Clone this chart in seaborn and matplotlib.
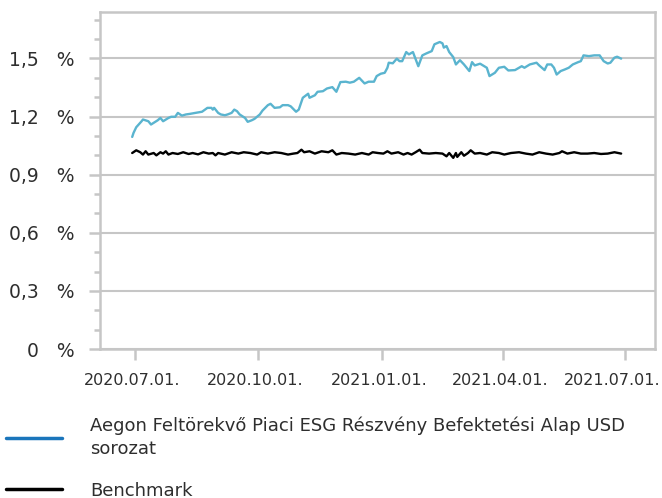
import pandas as pd
import matplotlib
matplotlib.use("Agg")
import matplotlib.pyplot as plt
import matplotlib.dates as mdates
import matplotlib.transforms as mtransforms
from matplotlib.ticker import MultipleLocator, FuncFormatter
from matplotlib.lines import Line2D
import seaborn as sns

sns.set_theme(style="white")
plt.rcParams['font.family'] = ['DejaVu Sans']

# Fund series
fund_dates = [
    "2020-06-29", "2020-06-30", "2020-07-02", "2020-07-06", "2020-07-07", "2020-07-11",
    "2020-07-13", "2020-07-18", "2020-07-20", "2020-07-22", "2020-07-26", "2020-07-28",
    "2020-07-31", "2020-08-02", "2020-08-05", "2020-08-08", "2020-08-11", "2020-08-15",
    "2020-08-20", "2020-08-24", "2020-08-27", "2020-08-28", "2020-08-29", "2020-09-01",
    "2020-09-03", "2020-09-06", "2020-09-08", "2020-09-11", "2020-09-13", "2020-09-15",
    "2020-09-17", "2020-09-21", "2020-09-23", "2020-09-26", "2020-09-28", "2020-10-02",
    "2020-10-04", "2020-10-08", "2020-10-10", "2020-10-13", "2020-10-17", "2020-10-19",
    "2020-10-23", "2020-10-25", "2020-10-29", "2020-10-31", "2020-11-03", "2020-11-07",
    "2020-11-08", "2020-11-12", "2020-11-14", "2020-11-18", "2020-11-21", "2020-11-25",
    "2020-11-28", "2020-12-01", "2020-12-05", "2020-12-08", "2020-12-11", "2020-12-15",
    "2020-12-19", "2020-12-22", "2020-12-26", "2020-12-28", "2020-12-31", "2021-01-03",
    "2021-01-05", "2021-01-06", "2021-01-09", "2021-01-12", "2021-01-14", "2021-01-16",
    "2021-01-19", "2021-01-21", "2021-01-24", "2021-01-28", "2021-01-31", "2021-02-03",
    "2021-02-07", "2021-02-09", "2021-02-13", "2021-02-15", "2021-02-16", "2021-02-18",
    "2021-02-20", "2021-02-23", "2021-02-25", "2021-02-28", "2021-03-03", "2021-03-07",
    "2021-03-09", "2021-03-11", "2021-03-15", "2021-03-20", "2021-03-22", "2021-03-26",
    "2021-03-29", "2021-04-02", "2021-04-05", "2021-04-10", "2021-04-15", "2021-04-17",
    "2021-04-21", "2021-04-26", "2021-04-28", "2021-05-02", "2021-05-04", "2021-05-07",
    "2021-05-09", "2021-05-11", "2021-05-14", "2021-05-17", "2021-05-20", "2021-05-23",
    "2021-05-27", "2021-05-29", "2021-05-31", "2021-06-04", "2021-06-08", "2021-06-12",
    "2021-06-15", "2021-06-18", "2021-06-20", "2021-06-23", "2021-06-25", "2021-06-28",
]
fund_values = [
    1.095, 1.116, 1.145, 1.176, 1.185, 1.176,
    1.159, 1.181, 1.193, 1.176, 1.193, 1.199,
    1.199, 1.219, 1.205, 1.211, 1.214, 1.219,
    1.225, 1.245, 1.245, 1.236, 1.245, 1.219,
    1.211, 1.207, 1.211, 1.219, 1.236, 1.228,
    1.211, 1.193, 1.173, 1.181, 1.188, 1.211,
    1.231, 1.259, 1.266, 1.245, 1.248, 1.259,
    1.259, 1.253, 1.225, 1.236, 1.297, 1.318,
    1.297, 1.310, 1.328, 1.331, 1.345, 1.352,
    1.328, 1.378, 1.380, 1.375, 1.380, 1.400,
    1.371, 1.380, 1.380, 1.409, 1.421, 1.426,
    1.452, 1.478, 1.475, 1.499, 1.486, 1.486,
    1.533, 1.521, 1.533, 1.460, 1.516, 1.526,
    1.538, 1.573, 1.585, 1.578, 1.556, 1.564,
    1.533, 1.507, 1.469, 1.491, 1.469, 1.435,
    1.481, 1.464, 1.473, 1.452, 1.409, 1.426,
    1.452, 1.457, 1.438, 1.440, 1.460, 1.452,
    1.469, 1.478, 1.464, 1.440, 1.469, 1.469,
    1.452, 1.417, 1.435, 1.443, 1.452, 1.469,
    1.481, 1.486, 1.516, 1.512, 1.516, 1.516,
    1.486, 1.474, 1.478, 1.504, 1.509, 1.499,
]

# Benchmark series
bench_dates = [
    "2020-06-29", "2020-07-02", "2020-07-05", "2020-07-07", "2020-07-09", "2020-07-11",
    "2020-07-15", "2020-07-17", "2020-07-20", "2020-07-22", "2020-07-24", "2020-07-26",
    "2020-07-29", "2020-08-02", "2020-08-06", "2020-08-10", "2020-08-13", "2020-08-17",
    "2020-08-21", "2020-08-25", "2020-08-28", "2020-08-30", "2020-09-01", "2020-09-06",
    "2020-09-11", "2020-09-16", "2020-09-20", "2020-09-25", "2020-09-30", "2020-10-03",
    "2020-10-08", "2020-10-13", "2020-10-18", "2020-10-23", "2020-10-27", "2020-10-30",
    "2020-11-02", "2020-11-04", "2020-11-08", "2020-11-12", "2020-11-17", "2020-11-22",
    "2020-11-25", "2020-11-28", "2020-12-02", "2020-12-07", "2020-12-12", "2020-12-17",
    "2020-12-22", "2020-12-25", "2020-12-29", "2021-01-02", "2021-01-05", "2021-01-08",
    "2021-01-13", "2021-01-17", "2021-01-20", "2021-01-23", "2021-01-26", "2021-01-29",
    "2021-01-31", "2021-02-05", "2021-02-10", "2021-02-15", "2021-02-18", "2021-02-20",
    "2021-02-23", "2021-02-25", "2021-02-26", "2021-03-01", "2021-03-03", "2021-03-06",
    "2021-03-08", "2021-03-11", "2021-03-15", "2021-03-20", "2021-03-24", "2021-03-29",
    "2021-04-02", "2021-04-07", "2021-04-13", "2021-04-18", "2021-04-23", "2021-04-28",
    "2021-05-03", "2021-05-08", "2021-05-13", "2021-05-15", "2021-05-19", "2021-05-24",
    "2021-05-29", "2021-06-03", "2021-06-08", "2021-06-13", "2021-06-18", "2021-06-23",
    "2021-06-28",
]
bench_values = [
    1.012, 1.026, 1.016, 1.004, 1.021, 1.004,
    1.012, 1.000, 1.016, 1.009, 1.021, 1.004,
    1.012, 1.007, 1.016, 1.007, 1.012, 1.005,
    1.016, 1.009, 1.012, 1.000, 1.012, 1.004,
    1.016, 1.009, 1.016, 1.012, 1.004, 1.016,
    1.009, 1.016, 1.012, 1.004, 1.009, 1.012,
    1.029, 1.016, 1.021, 1.009, 1.021, 1.016,
    1.026, 1.004, 1.012, 1.009, 1.004, 1.012,
    1.004, 1.016, 1.012, 1.009, 1.021, 1.009,
    1.016, 1.004, 1.012, 1.004, 1.016, 1.029,
    1.012, 1.009, 1.012, 1.009, 0.995, 1.012,
    0.987, 1.012, 0.992, 1.016, 0.998, 1.012,
    1.026, 1.009, 1.012, 1.004, 1.016, 1.012,
    1.004, 1.012, 1.016, 1.009, 1.004, 1.016,
    1.009, 1.004, 1.012, 1.021, 1.009, 1.016,
    1.009, 1.009, 1.012, 1.007, 1.009, 1.016,
    1.009,
]

fund_label = "Aegon Feltörekvő Piaci ESG Részvény Befektetési Alap USD\nsorozat"
bench_label = "Benchmark"
x_ticks = ["2020-07-01", "2020-10-01", "2021-01-01", "2021-04-01", "2021-07-01"]

fund_df = pd.DataFrame({"Date": pd.to_datetime(fund_dates), "Value": fund_values})
bench_df = pd.DataFrame({"Date": pd.to_datetime(bench_dates), "Value": bench_values})

grid_gray = "#c6c6c6"
text_gray = "#2e2e2e"

fig = plt.figure(figsize=(6.62, 4.98), dpi=100)
ax = fig.add_axes([0.151, 0.299, 0.838, 0.677])

sns.lineplot(data=bench_df, x="Date", y="Value", color="black", linewidth=1.7, ax=ax)
sns.lineplot(data=fund_df, x="Date", y="Value", color="#5ab4cf", linewidth=1.7, ax=ax)

ax.set_xlim(pd.Timestamp("2020-06-05"), pd.Timestamp("2021-07-23"))
ax.set_ylim(0, 1.74)
ax.set_xlabel("")
ax.set_ylabel("")

ax.set_xticks(pd.to_datetime(x_ticks))
ax.xaxis.set_major_formatter(mdates.DateFormatter("%Y.%m.%d."))
ax.yaxis.set_major_locator(MultipleLocator(0.3))
ax.yaxis.set_minor_locator(MultipleLocator(0.1))
ax.yaxis.set_major_formatter(FuncFormatter(
    lambda v, p: ("0" if abs(v) < 1e-9 else f"{v:.1f}".replace(".", ",")) + "   %"))

ax.grid(axis="y", which="major", color=grid_gray, linewidth=1.5)
ax.set_axisbelow(True)
for s in ax.spines.values():
    s.set_visible(True)
    s.set_color(grid_gray)
    s.set_linewidth(1.8)

ax.tick_params(axis="y", which="major", direction="out", length=8, width=1.8,
               color=grid_gray, labelsize=13.5, labelcolor=text_gray, pad=10, left=True)
ax.tick_params(axis="y", which="minor", direction="out", length=4, width=1.8,
               color=grid_gray, left=True)
ax.tick_params(axis="x", which="major", direction="out", length=8, width=1.8,
               color=grid_gray, labelsize=11.5, labelcolor=text_gray, pad=9, bottom=True)

# labels sit a little left of their ticks; the last one is pulled in to fit
labels = ax.get_xticklabels()
for i, lab in enumerate(labels):
    dx = -13 if i == len(labels) - 1 else -3
    lab.set_transform(lab.get_transform() +
                      mtransforms.ScaledTranslation(dx / 100, 0, fig.dpi_scale_trans))

handles = [Line2D([0], [0], color="#1a75bb", linewidth=2.5),
           Line2D([0], [0], color="black", linewidth=2.5)]
leg = fig.legend(handles, [fund_label, bench_label], loc="upper left",
                 bbox_to_anchor=(0.009, 0.163), frameon=False, fontsize=13,
                 handlelength=3.1, handletextpad=1.55, labelspacing=1.3,
                 labelcolor=text_gray, borderaxespad=0, borderpad=0)
for t in leg.get_texts():
    t.set_linespacing(1.35)

fig.savefig("out.png", dpi=100)
